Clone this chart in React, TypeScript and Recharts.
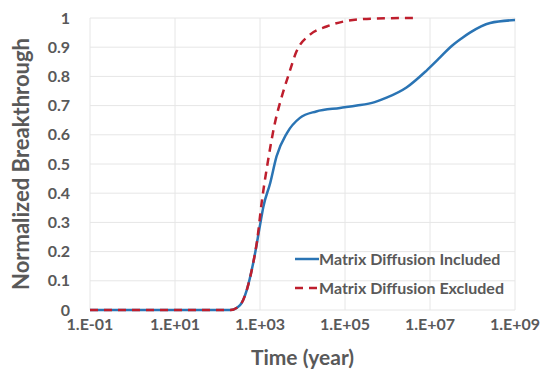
import { LineChart, Line, XAxis, YAxis, CartesianGrid } from 'recharts'

// time in years, breakthrough values
const includedTime = [0.1, 200, 340, 490, 690, 1000, 1200, 1740, 2450, 4300, 8700, 2.1e4, 7.6e4, 1.9e5, 5e5, 9.5e5, 2.8e6, 8.3e6, 1.7e7, 3e7, 5.5e7, 8.7e7, 2.6e8, 1e9]
const includedValue = [0, 0, 0.017, 0.069, 0.16, 0.29, 0.354, 0.435, 0.526, 0.606, 0.658, 0.68, 0.692, 0.7, 0.712, 0.727, 0.762, 0.82, 0.864, 0.9, 0.93, 0.95, 0.983, 0.993]

const excludedTime = [0.1, 200, 340, 490, 690, 850, 1100, 1500, 2240, 3240, 4700, 7200, 1.5e4, 3.7e4, 1.1e5, 4.7e5, 4e6]
const excludedValue = [0, 0, 0.017, 0.069, 0.16, 0.235, 0.37, 0.5, 0.64, 0.73, 0.805, 0.885, 0.943, 0.971, 0.99, 0.998, 1.0]

const xTicks = [0.1, 10, 1e3, 1e5, 1e7, 1e9]
const xTickLabels = ['1.E-01', '1.E+01', '1.E+03', '1.E+05', '1.E+07', '1.E+09']
const yTicks = [0, 0.1, 0.2, 0.3, 0.4, 0.5, 0.6, 0.7, 0.8, 0.9, 1]

const seriesNames = ['Matrix Diffusion Included', 'Matrix Diffusion Excluded']

const included = includedTime.map((t, i) => ({ t, v: includedValue[i] }))
const excluded = excludedTime.map((t, i) => ({ t, v: excludedValue[i] }))

const BLUE = '#2a74b4'
const RED = '#be1e2d'
const TEXT = '#595959'
const FONT = 'Lato, "Open Sans", sans-serif'

function ChartLegend() {
  return (
    <div
      style={{
        position: 'absolute', left: 295, top: 244,
        fontFamily: FONT, fontWeight: 700, fontSize: 16, color: TEXT, lineHeight: '29px',
      }}
    >
      <div style={{ display: 'flex', alignItems: 'center' }}>
        <svg width={24} height={10}>
          <line x1={0} y1={5} x2={24} y2={5} stroke={BLUE} strokeWidth={2.5} />
        </svg>
        <span>{seriesNames[0]}</span>
      </div>
      <div style={{ display: 'flex', alignItems: 'center' }}>
        <svg width={24} height={10}>
          <line x1={0} y1={5} x2={24} y2={5} stroke={RED} strokeWidth={2.5} strokeDasharray="8 6" />
        </svg>
        <span>{seriesNames[1]}</span>
      </div>
    </div>
  )
}

export default function App() {
  return (
    <div style={{ position: 'absolute', left: 0, top: 0, width: 544, height: 378, background: '#fff' }}>
      <LineChart width={544} height={378} margin={{ top: 18, right: 29, left: 0, bottom: 0 }}>
        <CartesianGrid stroke="#e6e6e6" />
        <XAxis
          dataKey="t"
          type="number"
          scale="log"
          domain={[0.1, 1e9]}
          ticks={xTicks}
          tickFormatter={(v: number) => xTickLabels[xTicks.indexOf(v)] ?? ''}
          allowDataOverflow
          axisLine={false}
          tickLine={false}
          tickSize={0}
          tickMargin={9}
          height={68}
          tick={{ fill: TEXT, fontSize: 16, fontWeight: 700, fontFamily: FONT }}
          label={{
            content: ({ viewBox }: any) => (
              <text
                x={viewBox.x + viewBox.width / 2}
                y={365}
                textAnchor="middle"
                fill={TEXT}
                fontSize={21}
                fontWeight={700}
                fontFamily={FONT}
              >
                Time (year)
              </text>
            ),
          }}
        />
        <YAxis
          type="number"
          domain={[0, 1]}
          ticks={yTicks}
          axisLine={false}
          tickLine={false}
          tickSize={0}
          tickMargin={20}
          width={90}
          tick={{ fill: TEXT, fontSize: 16, fontWeight: 700, fontFamily: FONT }}
          label={{
            content: ({ viewBox }: any) => (
              <text
                x={0}
                y={0}
                transform={`translate(29, ${viewBox.y + viewBox.height / 2}) rotate(-90)`}
                textAnchor="middle"
                fill={TEXT}
                fontSize={22}
                fontWeight={700}
                fontFamily={FONT}
              >
                Normalized Breakthrough
              </text>
            ),
          }}
        />
        <Line
          data={included}
          dataKey="v"
          name={seriesNames[0]}
          type="monotone"
          stroke={BLUE}
          strokeWidth={2.5}
          dot={false}
          isAnimationActive={false}
        />
        <Line
          data={excluded}
          dataKey="v"
          name={seriesNames[1]}
          type="monotone"
          stroke={RED}
          strokeWidth={2.5}
          strokeDasharray="8 6"
          dot={false}
          isAnimationActive={false}
        />
      </LineChart>
      <ChartLegend />
    </div>
  )
}
